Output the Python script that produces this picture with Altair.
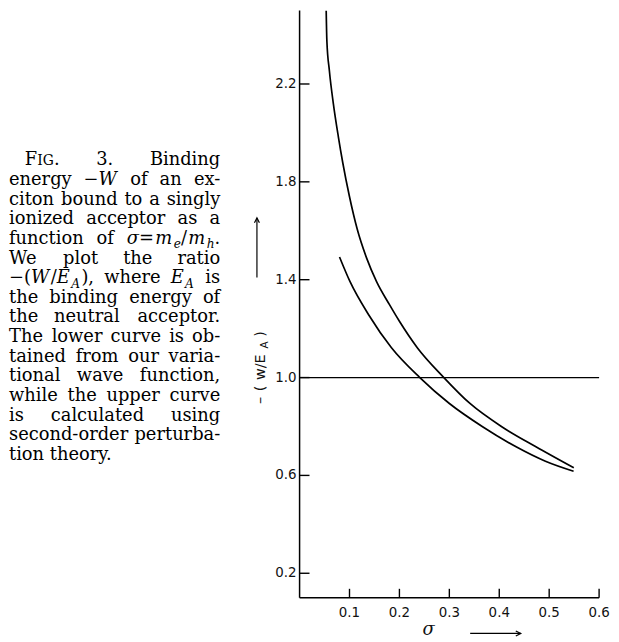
import altair as alt
import pandas as pd

# ---------------- data ----------------
upper_sigma = [0.0533, 0.0547, 0.0597, 0.0677, 0.0776, 0.0866, 0.0997, 0.1154, 0.1347,
               0.1542, 0.1801, 0.2000, 0.2358, 0.2886, 0.3413, 0.4050, 0.4726, 0.5493]
upper_ratio = [2.500, 2.375, 2.254, 2.119, 1.985, 1.877, 1.742, 1.607, 1.486,
               1.392, 1.298, 1.230, 1.122, 1.001, 0.894, 0.799, 0.718, 0.631]
lower_sigma = [0.0800, 0.1011, 0.1383, 0.1841, 0.2404, 0.3001, 0.3666, 0.4328, 0.4925, 0.5489]
lower_ratio = [1.493, 1.392, 1.257, 1.122, 1.001, 0.894, 0.799, 0.718, 0.658, 0.617]
unity_sigma = [0.0, 0.6]
unity_ratio = [1.0, 1.0]
x_tick_values = [0.1, 0.2, 0.3, 0.4, 0.5, 0.6]
y_tick_values = [0.2, 0.6, 1.0, 1.4, 1.8, 2.2]
x_tick_labels = ["0.1", "0.2", "0.3", "0.4", "0.5", "0.6"]
y_tick_labels = ["0.2", "0.6", "1.0", "1.4", "1.8", "2.2"]
x_domain = [0.0, 0.6]
y_domain = [0.1, 2.5]

caption_lines = [
    "{FIG} 3. Binding",
    "energy {-W} of an ex-",
    "citon bound to a singly",
    "ionized acceptor as a",
    "function of {sigma}",
    "We plot the ratio",
    "{ratio} where {EA} is",
    "the binding energy of",
    "the neutral acceptor.",
    "The lower curve is ob-",
    "tained from our varia-",
    "tional wave function,",
    "while the upper curve",
    "is calculated using",
    "second-order perturba-",
    "tion theory.",
]
special_words = {
    "{FIG}": [("F", "r"), ("IG", "c"), (".", "r")],
    "{-W}": [("−", "r"), ("W", "i")],
    "{sigma}": [("σ", "i"), ("=", "r"), ("m", "i"), ("e", "s"), ("/", "r"),
                ("m", "i"), ("h", "s"), (".", "r")],
    "{ratio}": [("−(", "r"), ("W", "i"), ("/", "r"), ("E", "i"), ("A", "s"), ("),", "r")],
    "{EA}": [("E", "i"), ("A", "s")],
}

# ---------------- layout ----------------
W, H = 302, 592
PAD = {"left": 294, "top": 0, "right": 12, "bottom": 40}
OX, OY = 8 + PAD["left"], 8 + PAD["top"]


def sx(px):
    """page pixel x -> sigma units (annotation placement only)"""
    return x_domain[0] + (px - OX) / W * (x_domain[1] - x_domain[0])


def sy(py):
    """page pixel y -> ratio units (annotation placement only)"""
    return y_domain[1] - (py - OY) / H * (y_domain[1] - y_domain[0])


CAP_F = 18
CAP_L0, CAP_L, CAP_R = 25, 9, 222
CAP_BASE0, CAP_STEP = 164, 19.8

EM = {
    'a': .596, 'b': .640, 'c': .560, 'd': .640, 'e': .592, 'f': .370, 'g': .640,
    'h': .644, 'i': .320, 'j': .320, 'k': .610, 'l': .320, 'm': .948, 'n': .644,
    'o': .602, 'p': .640, 'q': .640, 'r': .478, 's': .513, 't': .402, 'u': .644,
    'v': .565, 'w': .856, 'x': .564, 'y': .565, 'z': .523,
    'A': .722, 'B': .735, 'C': .765, 'D': .802, 'E': .729, 'F': .694, 'G': .799,
    'H': .872, 'I': .395, 'T': .703, 'W': 1.03,
    ' ': .318, '.': .318, ',': .318, '-': .338, '(': .390, ')': .390, '/': .337,
    '=': .838, '−': .838, 'σ': .62, '3': .636,
}
style_size = {"r": CAP_F, "i": CAP_F, "s": 0.68 * CAP_F, "c": 0.78 * CAP_F}
style_fstyle = {"r": "normal", "i": "italic", "s": "italic", "c": "normal"}
style_dy = {"r": 0, "i": 0, "s": 0.25 * CAP_F, "c": 0}
style_extra = {"r": 0, "i": 0.08, "s": 0.12, "c": 0}   # italic overhang allowance (em)


def seg_w(text, style):
    return (sum(EM.get(ch, 0.6) for ch in text) + style_extra[style]) * style_size[style]


rows = []
nlines = len(caption_lines)
for k, line in enumerate(caption_lines):
    words = [special_words.get(w, [(w, "r")]) for w in line.split(" ")]
    base = CAP_BASE0 + k * CAP_STEP
    left = CAP_L0 if k == 0 else CAP_L
    widths = [sum(seg_w(t, s) for t, s in w) for w in words]
    last = (k == nlines - 1)
    n = len(words)
    gap = EM[' '] * CAP_F if (last or n == 1) else (CAP_R - left - sum(widths)) / (n - 1)
    for i, word in enumerate(words):
        start = left + sum(widths[:i]) + i * gap
        if (not last) and n > 1 and i == n - 1:
            xr = CAP_R
            for t, s in reversed(word):
                rows.append(dict(x=sx(xr), y=sy(base + style_dy[s]), text=t, style=s, align="right"))
                xr -= seg_w(t, s)
        elif (not last) and i > 0 and len(word) == 1:
            t, s = word[0]
            rows.append(dict(x=sx(start + widths[i] / 2), y=sy(base + style_dy[s]),
                             text=t, style=s, align="center"))
        else:
            xl = start
            for t, s in word:
                rows.append(dict(x=sx(xl), y=sy(base + style_dy[s]), text=t, style=s, align="left"))
                xl += seg_w(t, s)

cap_df = pd.DataFrame(rows)

xs = alt.Scale(domain=x_domain, nice=False, zero=False)
ys = alt.Scale(domain=y_domain, nice=False, zero=False)


def X(field):
    return alt.X(field, scale=xs, axis=None)


def Y(field):
    return alt.Y(field, scale=ys, axis=None)


curves_df = pd.concat([
    pd.DataFrame({"sigma": upper_sigma, "ratio": upper_ratio, "curve": "upper"}),
    pd.DataFrame({"sigma": lower_sigma, "ratio": lower_ratio, "curve": "lower"}),
], ignore_index=True)

curves = alt.Chart(curves_df).mark_line(
    color="black", strokeWidth=1.7, interpolate="monotone", clip=True
).encode(x=X("sigma:Q"), y=Y("ratio:Q"), detail="curve:N")

unity = alt.Chart(pd.DataFrame({"sigma": unity_sigma, "ratio": unity_ratio})).mark_line(
    color="black", strokeWidth=1.3
).encode(x=X("sigma:Q"), y=Y("ratio:Q"))

# axes drawn as marks: domain lines, inward ticks, labels
x_axis_line = alt.Chart(pd.DataFrame({"a": [x_domain[0]], "b": [x_domain[1]]})).mark_rule(
    color="black", strokeWidth=1.5
).encode(x=X("a:Q"), x2="b:Q", y=alt.value(H))
y_axis_line = alt.Chart(pd.DataFrame({"a": [y_domain[0]], "b": [y_domain[1]]})).mark_rule(
    color="black", strokeWidth=1.5
).encode(y=Y("a:Q"), y2="b:Q", x=alt.value(0))

xticks_df = pd.DataFrame({"t": x_tick_values, "lab": x_tick_labels})
yticks_df = pd.DataFrame({"t": y_tick_values, "lab": y_tick_labels})

xticks = alt.Chart(xticks_df).mark_rule(color="black", strokeWidth=1.4).encode(
    x=X("t:Q"), y=alt.value(H), y2=alt.value(H - 9))
yticks = alt.Chart(yticks_df).mark_rule(color="black", strokeWidth=1.4).encode(
    y=Y("t:Q"), x=alt.value(0), x2=alt.value(10))

xlabels = alt.Chart(xticks_df).mark_text(
    font="DejaVu Sans", fontSize=13.5, align="center", baseline="top", color="#111"
).encode(x=X("t:Q"), y=alt.value(H + 8), text="lab:N")
ylabels = alt.Chart(yticks_df).mark_text(
    font="DejaVu Sans", fontSize=13.5, align="right", baseline="middle", color="#111"
).encode(y=Y("t:Q"), x=alt.value(-3), text="lab:N")

# y-axis title pieces, rotated (reads bottom to top)
ytitle_main = pd.DataFrame({
    "x": [sx(263)] * 4,
    "y": [sy(401), sy(389), sy(367.5), sy(334)],
    "text": ["–", "(", "w/E", ")"],
})
ytitle_sub = pd.DataFrame({"x": [sx(267)], "y": [sy(345)], "text": ["A"]})

ytitle1 = alt.Chart(ytitle_main).mark_text(
    font="DejaVu Sans", fontSize=14.5, angle=270, align="center", baseline="middle", color="#111"
).encode(x=X("x:Q"), y=Y("y:Q"), text="text:N")
ytitle2 = alt.Chart(ytitle_sub).mark_text(
    font="DejaVu Sans", fontSize=10.5, angle=270, align="center", baseline="middle", color="#111"
).encode(x=X("x:Q"), y=Y("y:Q"), text="text:N")

sigma_df = pd.DataFrame({"x": [sx(432)], "y": [sy(633)], "text": ["σ"]})
sigma_lbl = alt.Chart(sigma_df).mark_text(
    font="DejaVu Serif", fontSize=18, fontStyle="italic", align="center", baseline="middle", color="#111"
).encode(x=X("x:Q"), y=Y("y:Q"), text="text:N")

arrows_df = pd.DataFrame({
    "x": [sx(259), sx(474)], "x2": [sx(259), sx(525)],
    "y": [sy(217), sy(636)], "y2": [sy(277), sy(636)],
})
arrow_lines = alt.Chart(arrows_df).mark_rule(color="black", strokeWidth=1.2).encode(
    x=X("x:Q"), x2="x2:Q", y=Y("y:Q"), y2="y2:Q"
)
head_up = alt.Chart(pd.DataFrame({"x": [sx(259)], "y": [sy(217)]})).mark_point(
    shape="M -0.5 1 L 0 0 L 0.5 1", filled=False, size=100, strokeWidth=1.2,
    color="black", opacity=1
).encode(x=X("x:Q"), y=Y("y:Q"))
head_right = alt.Chart(pd.DataFrame({"x": [sx(525)], "y": [sy(636)]})).mark_point(
    shape="M -1 -0.5 L 0 0 L -1 0.5", filled=False, size=100, strokeWidth=1.2,
    color="black", opacity=1
).encode(x=X("x:Q"), y=Y("y:Q"))

cap_layers = []
for (s, a), grp in cap_df.groupby(["style", "align"]):
    cap_layers.append(
        alt.Chart(grp.reset_index(drop=True)).mark_text(
            font="DejaVu Serif", fontSize=style_size[s], fontStyle=style_fstyle[s],
            align=a, baseline="alphabetic", color="#000"
        ).encode(x=X("x:Q"), y=Y("y:Q"), text="text:N")
    )

chart = alt.layer(
    curves, unity, x_axis_line, y_axis_line, xticks, yticks, xlabels, ylabels,
    ytitle1, ytitle2, sigma_lbl, arrow_lines, head_up, head_right, *cap_layers
).properties(
    width=W, height=H,
    autosize=alt.AutoSizeParams(type="none"),
    padding=PAD,
    background="white",
).configure_view(
    stroke=None
)

chart.save("out.html", embed_options={"renderer": "svg", "actions": False})
